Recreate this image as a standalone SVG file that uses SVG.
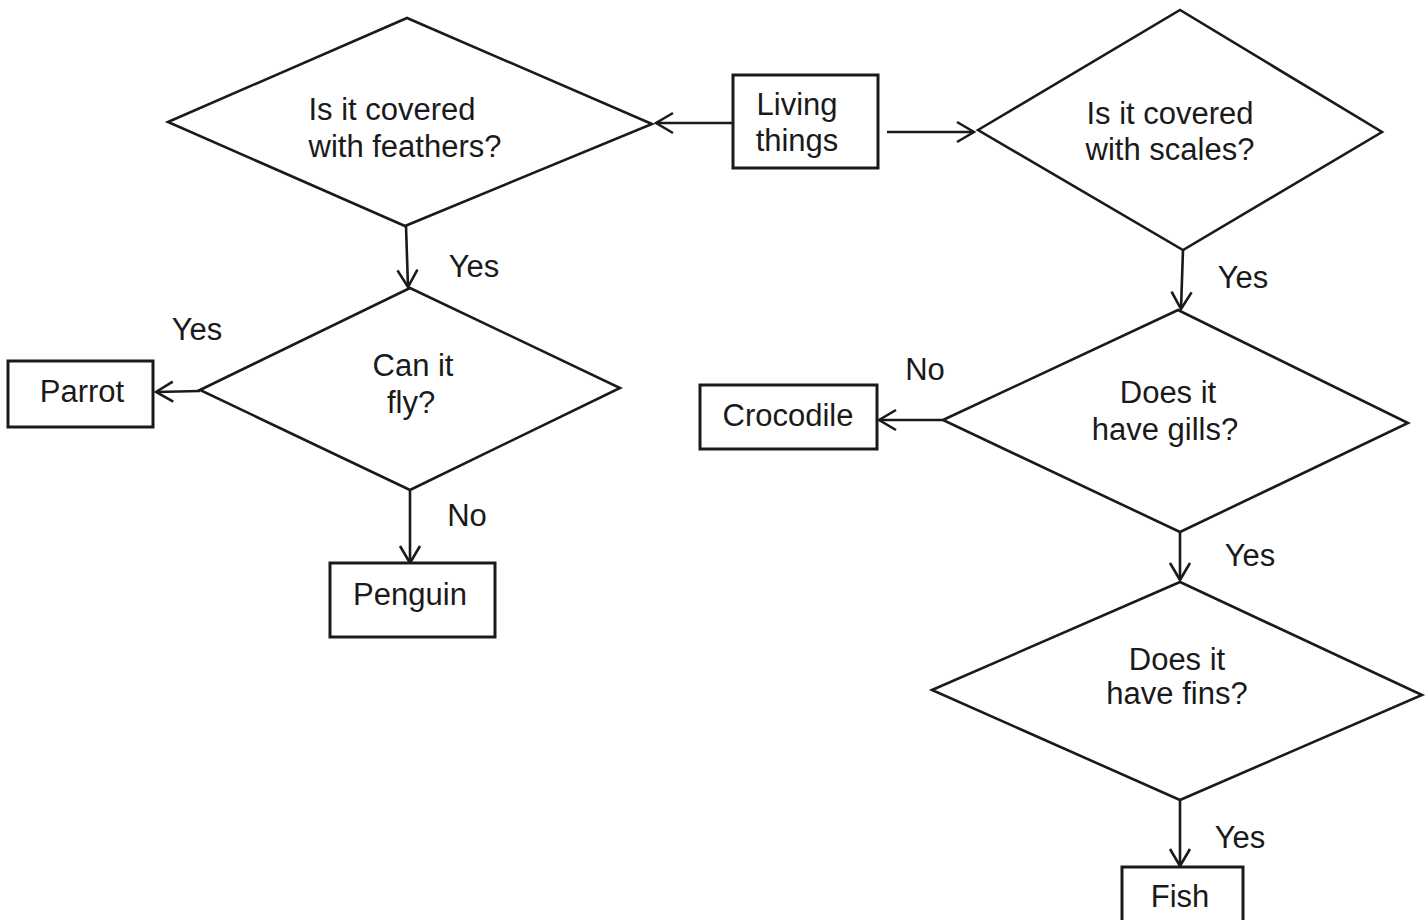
<svg xmlns="http://www.w3.org/2000/svg" width="1428" height="920" viewBox="0 0 1428 920">
<style>
.shape{fill:#fff;stroke:#1a1a1a;stroke-width:2.6}
.box{fill:#fff;stroke:#1a1a1a;stroke-width:3}
.edge{fill:none;stroke:#1a1a1a;stroke-width:2.6}
text{font-family:"Liberation Sans",Arial,sans-serif;font-size:31px;fill:#1a1a1a;text-anchor:middle}
</style>
<defs>
<marker id="arr" viewBox="0 0 24 24" refX="22" refY="12" markerWidth="24" markerHeight="24" markerUnits="userSpaceOnUse" orient="auto">
<path d="M5,2 L22,12 L5,22" fill="none" stroke="#1a1a1a" stroke-width="2.6"/>
</marker>
</defs>
<rect width="1428" height="920" fill="#fff"/>
<g id="connectors">
<line class="edge" x1="733" y1="123" x2="656" y2="123" marker-end="url(#arr)"/>
<line class="edge" x1="887" y1="132" x2="974" y2="132" marker-end="url(#arr)"/>
<line class="edge" x1="406" y1="226" x2="408" y2="287" marker-end="url(#arr)"/>
<line class="edge" x1="200" y1="391" x2="156" y2="392" marker-end="url(#arr)"/>
<line class="edge" x1="410" y1="490" x2="410" y2="563" marker-end="url(#arr)"/>
<line class="edge" x1="1183" y1="250" x2="1181" y2="309" marker-end="url(#arr)"/>
<line class="edge" x1="943" y1="420" x2="879" y2="420" marker-end="url(#arr)"/>
<line class="edge" x1="1180" y1="532" x2="1180" y2="580" marker-end="url(#arr)"/>
<line class="edge" x1="1180" y1="800" x2="1180" y2="866" marker-end="url(#arr)"/>
<text x="474" y="277">Yes</text>
<text x="197" y="340">Yes</text>
<text x="467" y="526">No</text>
<text x="1243" y="288">Yes</text>
<text x="925" y="380">No</text>
<text x="1250" y="566">Yes</text>
<text x="1240" y="848">Yes</text>
</g>
<g id="living">
<rect class="box" x="733" y="75" width="145" height="93"/>
<text x="797" y="115">Living</text>
<text x="797" y="151">things</text>
</g>
<g id="feathers">
<polygon class="shape" points="168,122 407,18 652,124 405,226"/>
<text x="392" y="120">Is it covered</text>
<text x="405" y="157">with feathers?</text>
</g>
<g id="scales">
<polygon class="shape" points="978,130 1180,10 1382,132 1183,250"/>
<text x="1170" y="124">Is it covered</text>
<text x="1170" y="160">with scales?</text>
</g>
<g id="fly">
<polygon class="shape" points="200,390 410,288 620,388 410,490"/>
<text x="413" y="376">Can it</text>
<text x="411" y="413">fly?</text>
</g>
<g id="parrot">
<rect class="box" x="8" y="361" width="145" height="66"/>
<text x="82" y="402">Parrot</text>
</g>
<g id="penguin">
<rect class="box" x="330" y="563" width="165" height="74"/>
<text x="410" y="605">Penguin</text>
</g>
<g id="gills">
<polygon class="shape" points="943,420 1178,310 1408,423 1180,532"/>
<text x="1168" y="403">Does it</text>
<text x="1165" y="440">have gills?</text>
</g>
<g id="crocodile">
<rect class="box" x="700" y="385" width="177" height="64"/>
<text x="788" y="426">Crocodile</text>
</g>
<g id="fins">
<polygon class="shape" points="932,690 1180,582 1422,695 1180,800"/>
<text x="1177" y="670">Does it</text>
<text x="1177" y="704">have fins?</text>
</g>
<g id="fish">
<rect class="box" x="1122" y="867" width="121" height="60"/>
<text x="1180" y="907">Fish</text>
</g>
</svg>
